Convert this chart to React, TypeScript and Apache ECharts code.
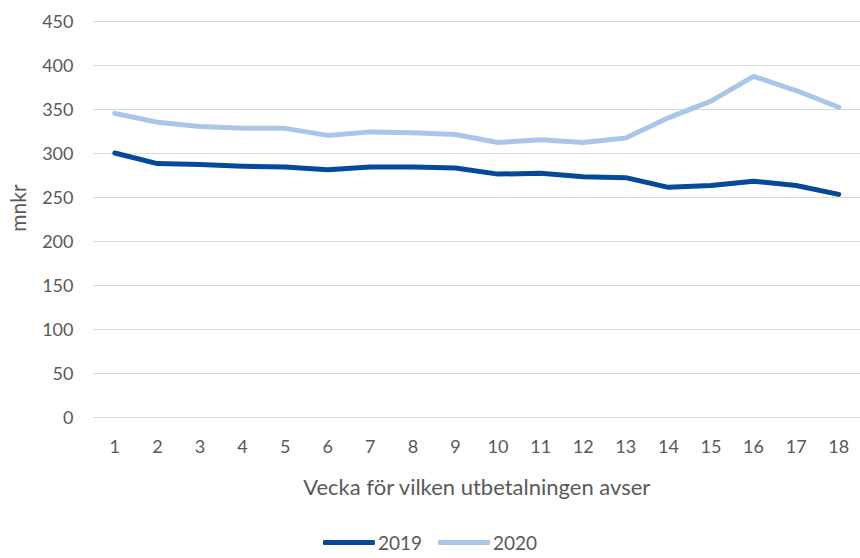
import React, { useEffect, useRef } from "react";
import * as echarts from "echarts";

const weeks = ["1","2","3","4","5","6","7","8","9","10","11","12","13","14","15","16","17","18"];
const values2019 = [300, 288, 287, 285, 284, 281, 284, 284, 283, 276, 277, 273, 272, 261, 263, 268, 263, 253];
const values2020 = [345, 335, 330, 328, 328, 320, 324, 323, 321, 312, 315, 312, 317, 340, 359, 387, 371, 352];
const seriesNames = ["2019", "2020"];
const colors = ["#054a9a", "#a9c6ea"];
const yTitle = "mnkr";
const xTitle = "Vecka för vilken utbetalningen avser";

const FONT = "Lato, 'Noto Sans', sans-serif";
const TXT = "#595959";

export default function App() {
  const ref = useRef<HTMLDivElement>(null);
  useEffect(() => {
    if (!ref.current) return;
    const chart = echarts.init(ref.current, undefined, { renderer: "svg" });
    chart.setOption({
      animation: false,
      backgroundColor: "#ffffff",
      textStyle: { fontFamily: FONT },
      grid: { left: 93.5, right: -6.5, top: 21, bottom: 141, containLabel: false },
      legend: {
        bottom: 1,
        left: "center",
        itemWidth: 52,
        itemHeight: 5,
        itemGap: 16,
        icon: "roundRect",
        textStyle: { color: TXT, fontSize: 19, fontFamily: FONT, padding: [0, 0, 0, -2] },
        data: seriesNames,
      },
      graphic: [
        {
          type: "text",
          x: 17,
          y: 208,
          rotation: Math.PI / 2,
          style: {
            text: yTitle,
            fill: TXT,
            font: `21px ${FONT}`,
            align: "center",
            verticalAlign: "middle",
          },
        },
      ],
      xAxis: {
        type: "category",
        data: weeks,
        boundaryGap: true,
        axisLine: { show: true, lineStyle: { color: "#d9d9d9", width: 1 } },
        axisTick: { show: false },
        axisLabel: { color: TXT, fontSize: 18, margin: 20, fontFamily: FONT },
        name: xTitle,
        nameLocation: "middle",
        nameGap: 58,
        nameTextStyle: { color: TXT, fontSize: 22, fontFamily: FONT },
      },
      yAxis: {
        type: "value",
        min: 0,
        max: 450,
        interval: 50,
        axisLine: { show: false },
        axisTick: { show: false },
        axisLabel: { color: TXT, fontSize: 18, margin: 20, fontFamily: FONT },
        splitLine: { lineStyle: { color: "#d9d9d9", width: 1 } },
      },
      series: [
        {
          name: seriesNames[0],
          type: "line",
          data: values2019,
          symbol: "none",
          smooth: false,
          lineStyle: { color: colors[0], width: 5, cap: "round", join: "round" },
          itemStyle: { color: colors[0] },
        },
        {
          name: seriesNames[1],
          type: "line",
          data: values2020,
          symbol: "none",
          smooth: false,
          lineStyle: { color: colors[1], width: 5, cap: "round", join: "round" },
          itemStyle: { color: colors[1] },
        },
      ],
    });
    return () => chart.dispose();
  }, []);
  return (
    <div
      ref={ref}
      style={{ position: "fixed", left: 0, top: 0, width: 860, height: 558 }}
    />
  );
}
